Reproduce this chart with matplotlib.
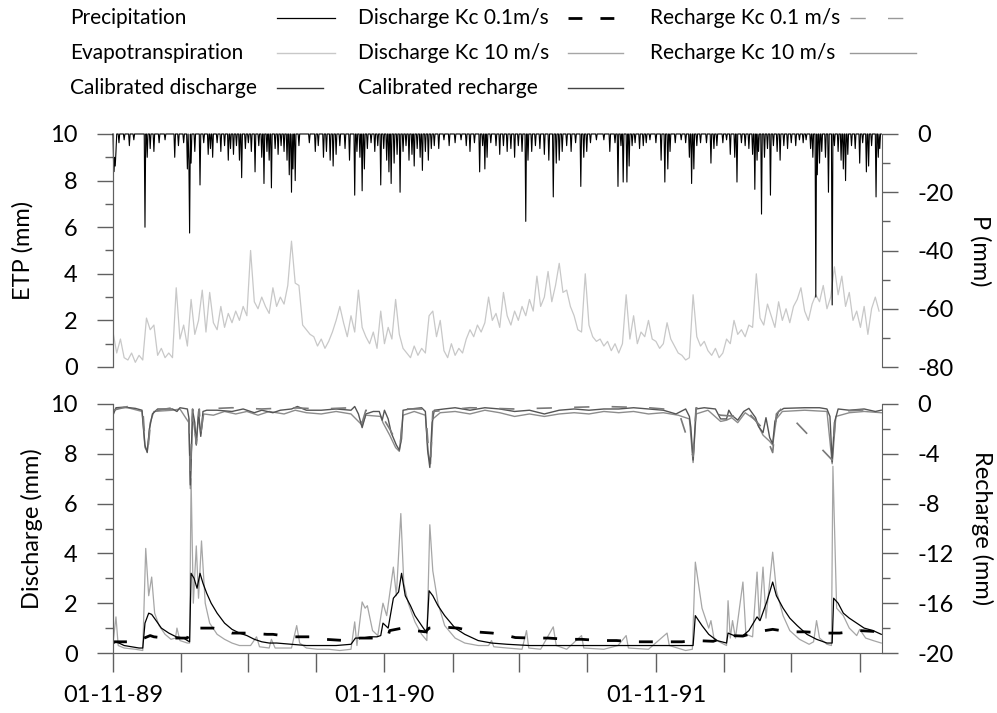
import numpy as np
import matplotlib
matplotlib.use('Agg')
import matplotlib.pyplot as plt
from matplotlib.lines import Line2D

plt.rcParams['font.family'] = ['Lato', 'DejaVu Sans']
plt.rcParams['axes.unicode_minus'] = False
plt.rcParams['lines.scale_dashes'] = False

start = np.datetime64('1989-11-01')
n_days = 1034

# ---- data (days counted from 01-11-89) ----
tick_dates = ['1989-11-01', '1990-02-01', '1990-05-01', '1990-08-01',
              '1990-11-01', '1991-02-01', '1991-05-01', '1991-08-01',
              '1991-11-01', '1992-02-01', '1992-05-01', '1992-08-01']
tick_labels = ['01-11-89', '', '', '', '01-11-90', '', '', '',
               '01-11-91', '', '', '']

# daily ETP read every 5 days (mm)
etp_step = 5
etp = [1.5, 0.6, 1.2, 0.4, 0.3, 0.6, 0.2, 0.5, 0.3, 2.1,
       1.6, 1.8, 0.5, 0.8, 0.4, 0.6, 0.4, 3.4, 1.2, 1.8,
       0.9, 2.9, 1.4, 2.0, 3.3, 1.5, 3.2, 1.9, 1.6, 2.6,
       1.7, 2.3, 1.9, 2.4, 2.0, 2.6, 2.2, 5.0, 2.8, 2.5,
       3.0, 2.6, 2.3, 3.4, 2.6, 3.0, 2.7, 3.5, 5.4, 3.6,
       3.5, 1.8, 1.6, 1.4, 1.3, 0.9, 1.2, 0.8, 1.1, 1.5,
       2.0, 2.6, 1.9, 1.3, 2.2, 1.5, 3.3, 1.7, 1.3, 1.0,
       1.5, 0.8, 2.4, 1.0, 1.7, 1.2, 2.9, 1.4, 0.8, 0.6,
       0.4, 0.9, 0.5, 0.8, 0.6, 2.2, 2.4, 1.3, 2.0, 0.7,
       0.4, 1.0, 0.5, 0.8, 0.6, 1.2, 1.6, 1.3, 1.8, 1.5,
       1.9, 3.0, 2.0, 2.3, 1.7, 3.2, 2.2, 1.8, 2.4, 2.0,
       2.6, 2.2, 2.9, 2.4, 3.9, 2.6, 3.0, 4.1, 2.8, 3.5,
       4.45, 3.2, 3.3, 2.6, 2.2, 1.6, 1.5, 4.0, 1.8, 1.3,
       1.1, 1.2, 0.9, 1.1, 0.7, 1.0, 0.6, 1.0, 3.1, 1.2,
       2.2, 1.0, 1.5, 1.3, 2.0, 1.2, 1.1, 0.8, 1.0, 1.9,
       1.2, 0.9, 0.6, 0.5, 0.3, 0.4, 3.1, 1.3, 0.9, 1.1,
       0.7, 0.5, 0.8, 0.4, 0.6, 1.2, 1.0, 2.0, 1.4, 1.6,
       1.3, 1.8, 1.7, 4.0, 2.1, 1.8, 2.7, 2.2, 1.7, 2.8,
       2.0, 2.5, 1.9, 2.6, 2.9, 3.4, 2.4, 2.0, 2.7, 3.1,
       2.8, 3.5, 2.5, 3.0, 4.3, 3.1, 3.9, 2.6, 3.2, 2.0,
       2.4, 1.7, 2.6, 1.4, 2.5, 3.0, 2.4]

# rain events (day, mm); all other days are dry
rain = [(1, 13), (2, 8), (3, 11), (4, 6), (8, 3), (15, 2), (22, 4), (28, 2),
        (43, 32), (46, 8), (50, 5), (55, 6), (62, 3), (70, 2), (83, 8), (88, 4),
        (95, 3), (100, 12), (102, 9), (103, 34), (105, 10), (110, 6), (117, 17.5),
        (122, 3), (128, 7), (131, 5), (134, 8), (140, 3), (145, 6), (150, 4),
        (155, 9), (158, 5), (162, 7), (166, 4), (170, 9), (173, 15), (178, 5),
        (182, 3), (186, 6), (191, 13), (196, 4), (200, 8), (203, 17), (207, 6),
        (210, 9), (213, 18.5), (218, 5), (222, 7), (226, 4), (230, 6), (234, 9),
        (237, 14), (240, 20), (242, 12), (245, 16), (250, 4), (264, 3), (272, 6),
        (276, 4), (283, 8), (287, 6), (292, 9), (296, 11), (300, 7), (305, 4),
        (312, 5), (318, 9), (325, 21), (328, 6), (332, 8), (335, 19.5), (338, 12),
        (342, 5), (347, 3), (352, 6), (356, 4), (360, 17.5), (364, 5), (368, 9),
        (371, 13), (374, 17), (378, 10), (382, 7), (386, 20), (390, 6), (394, 4),
        (398, 9), (402, 7), (405, 11), (409, 5), (413, 8), (416, 12.5), (420, 6),
        (424, 9), (428, 5), (432, 4), (438, 5), (445, 2), (452, 4), (460, 3),
        (468, 2), (475, 4), (480, 6), (486, 3), (493, 13), (497, 4), (500, 12),
        (503, 8), (508, 3), (515, 4), (520, 7), (525, 4), (530, 6), (535, 5),
        (540, 8), (545, 4), (550, 6), (555, 30), (558, 9), (563, 6), (568, 4),
        (574, 5), (580, 7), (586, 9), (592, 21.6), (596, 10), (600, 9), (604, 6),
        (610, 4), (616, 6), (622, 3), (629, 18), (633, 8), (637, 6), (642, 3),
        (650, 2), (660, 2), (668, 6), (675, 3), (679, 18), (683, 4), (686, 16.5),
        (691, 16.5), (694, 11), (698, 4), (702, 3), (708, 5), (713, 4), (717, 3),
        (722, 2), (730, 3), (737, 9), (742, 16.5), (746, 12), (749, 6), (756, 3),
        (764, 2), (770, 3), (775, 8), (778, 17), (781, 12), (785, 4), (790, 3),
        (798, 3), (804, 10), (808, 5), (812, 4), (820, 3), (825, 2), (830, 7),
        (836, 8), (839, 16.5), (845, 3), (850, 4), (855, 5), (860, 7), (863, 19),
        (866, 9), (868, 6), (872, 27.5), (876, 8), (880, 5), (884, 21), (888, 4),
        (893, 6), (897, 9), (902, 4), (907, 5), (912, 3), (918, 4), (923, 2),
        (928, 3), (932, 2), (938, 5), (941, 8), (945, 56), (947, 14), (950, 10),
        (953, 6), (958, 8), (962, 20), (967, 58.7), (970, 4), (975, 6), (979, 9),
        (982, 12), (985, 16), (988, 7), (993, 4), (998, 5), (1004, 10), (1008, 3),
        (1013, 13), (1016, 11), (1020, 4), (1026, 21.6), (1029, 8), (1031, 5)]

# discharge (mm), (day, value)
cal_q = [(0, 0.35), (3, 0.45), (8, 0.4), (15, 0.3), (25, 0.25), (35, 0.2), (40, 0.2),
         (43, 1.2), (48, 1.6), (52, 1.55), (58, 1.3), (65, 1.0), (75, 0.8), (85, 0.65),
         (95, 0.6), (100, 0.5), (103, 0.45), (105, 3.2), (109, 3.0), (113, 2.6),
         (117, 3.2), (121, 2.8), (126, 2.4), (132, 2.0), (140, 1.6), (150, 1.2),
         (160, 0.95), (170, 0.8), (180, 0.7), (190, 0.55), (200, 0.45), (210, 0.4),
         (220, 0.4), (240, 0.35), (260, 0.3), (280, 0.3), (300, 0.3), (320, 0.35),
         (326, 0.6), (335, 0.6), (345, 0.65), (355, 0.65), (360, 0.7), (363, 1.2),
         (370, 1.0), (377, 2.2), (384, 2.45), (388, 3.2), (393, 2.3), (400, 1.9),
         (406, 1.5), (415, 1.1), (422, 0.8), (425, 2.5), (430, 2.3), (437, 1.9),
         (446, 1.5), (460, 1.0), (473, 0.75), (491, 0.5), (509, 0.4), (530, 0.35),
         (560, 0.3), (590, 0.3), (620, 0.3), (650, 0.3), (680, 0.3), (700, 0.3),
         (730, 0.3), (760, 0.3), (780, 0.3), (783, 1.5), (792, 1.1), (801, 0.75),
         (812, 0.5), (825, 0.4), (827, 0.8), (835, 0.7), (847, 0.7), (855, 0.9),
         (866, 1.45), (870, 1.3), (879, 2.05), (887, 2.85), (892, 2.3), (901, 1.8),
         (910, 1.4), (920, 1.1), (933, 0.75), (946, 0.55), (960, 0.4), (967, 0.4),
         (969, 2.2), (975, 2.0), (982, 1.6), (990, 1.4), (1000, 1.2), (1010, 1.0),
         (1022, 0.9), (1033, 0.75)]

kc10_q = [(0, 0.4), (4, 1.45), (7, 0.3), (15, 0.2), (30, 0.15), (40, 0.1), (44, 4.2),
          (48, 2.3), (52, 3.05), (56, 1.6), (62, 1.1), (70, 0.75), (78, 0.55), (84, 0.6),
          (86, 1.0), (90, 0.5), (100, 0.4), (103, 0.4), (105, 7.0), (108, 2.0),
          (112, 4.3), (115, 2.2), (119, 4.5), (124, 2.0), (130, 1.2), (140, 0.75),
          (150, 0.55), (160, 0.4), (170, 0.3), (185, 0.3), (193, 0.65), (197, 0.25),
          (210, 0.2), (213, 0.55), (218, 0.2), (240, 0.2), (247, 1.1), (251, 0.4),
          (260, 0.2), (275, 0.15), (290, 0.15), (305, 0.1), (320, 0.15), (325, 1.25),
          (328, 0.3), (335, 2.05), (339, 1.8), (342, 1.9), (349, 0.9), (356, 0.7),
          (363, 2.0), (368, 1.5), (377, 3.45), (381, 2.3), (387, 5.6), (391, 2.8),
          (397, 2.0), (406, 1.25), (415, 0.75), (422, 0.5), (426, 5.15), (430, 3.3),
          (437, 2.0), (446, 1.1), (460, 0.6), (473, 0.4), (491, 0.3), (505, 0.3),
          (509, 0.5), (512, 0.25), (530, 0.2), (550, 0.15), (556, 0.9), (559, 0.2),
          (575, 0.15), (592, 1.05), (596, 0.3), (610, 0.15), (630, 0.7), (633, 0.2),
          (660, 0.15), (679, 0.3), (690, 0.7), (693, 0.2), (720, 0.15), (745, 0.8),
          (748, 0.3), (770, 0.1), (779, 0.15), (783, 3.65), (792, 1.8), (801, 1.0),
          (804, 1.3), (808, 0.6), (815, 0.45), (825, 0.3), (827, 2.1), (830, 0.6),
          (833, 1.3), (837, 0.6), (847, 2.85), (851, 0.75), (860, 0.65), (866, 3.25),
          (869, 1.3), (874, 3.45), (878, 1.4), (887, 4.05), (892, 2.5), (901, 1.5),
          (910, 0.9), (923, 0.55), (936, 0.35), (942, 0.45), (946, 1.3), (950, 0.6),
          (960, 0.35), (966, 0.3), (968, 7.5), (973, 1.8), (982, 1.5), (990, 1.0),
          (1000, 0.7), (1004, 0.95), (1012, 0.6), (1022, 0.5), (1033, 0.4)]

kc01_q = [(0, 0.45), (13, 0.45), (30, 0.45), (42, 0.6), (50, 0.7), (55, 0.65),
          (70, 0.6), (100, 0.6), (105, 1.0), (135, 1.0), (150, 0.9), (160, 0.8),
          (183, 0.8), (207, 0.75), (215, 0.75), (240, 0.65), (265, 0.65), (285, 0.55),
          (312, 0.5), (325, 0.55), (332, 0.6), (359, 0.6), (370, 0.7), (372, 0.9),
          (389, 1.0), (406, 0.9), (420, 0.85), (425, 1.0), (440, 1.05), (464, 1.0),
          (487, 0.85), (510, 0.8), (527, 0.72), (541, 0.62), (563, 0.6), (585, 0.6),
          (610, 0.55), (630, 0.55), (655, 0.5), (677, 0.5), (700, 0.45), (722, 0.45),
          (765, 0.45), (783, 0.5), (807, 0.47), (830, 0.7), (847, 0.68), (866, 0.85),
          (887, 0.95), (910, 0.85), (930, 0.85), (960, 0.8), (977, 0.8), (1004, 0.9),
          (1033, 0.85)]

# recharge (mm, negative), (day, value)
cal_r = [(0, -0.9), (4, -0.3), (15, -0.25), (30, -0.35), (39, -0.5), (43, -3.3),
         (46, -3.9), (49, -2.0), (53, -0.8), (60, -0.4), (80, -0.4), (86, -0.6),
         (90, -0.3), (100, -0.4), (102, -1.1), (104, -6.5), (107, -0.5), (110, -1.5),
         (112, -3.3), (115, -0.6), (118, -2.6), (121, -0.6), (126, -0.5), (140, -0.5),
         (160, -0.6), (175, -0.4), (190, -0.7), (200, -0.5), (215, -0.7), (225, -0.5),
         (240, -0.4), (248, -0.2), (260, -0.5), (280, -0.5), (300, -0.4), (320, -0.5),
         (325, -0.2), (330, -0.8), (335, -1.9), (340, -0.8), (350, -0.6), (358, -0.6),
         (362, -1.3), (365, -0.5), (370, -1.2), (374, -2.3), (381, -3.3), (385, -3.7),
         (388, -2.8), (390, -0.5), (400, -0.4), (415, -0.3), (420, -0.6), (423, -3.7),
         (426, -5.1), (429, -1.5), (432, -0.5), (445, -0.4), (460, -0.3), (480, -0.5),
         (500, -0.3), (520, -0.4), (540, -0.6), (560, -0.5), (580, -0.8), (600, -0.5),
         (620, -0.4), (640, -0.5), (660, -0.4), (680, -0.4), (700, -0.3), (720, -0.4),
         (740, -0.5), (757, -0.8), (770, -0.4), (775, -1.0), (777, -1.9), (780, -4.5),
         (784, -0.4), (795, -0.3), (810, -0.4), (817, -1.2), (825, -1.2), (828, -0.5),
         (832, -0.9), (840, -1.3), (848, -0.6), (855, -0.35), (864, -1.1), (868, -1.8),
         (874, -2.3), (878, -1.1), (883, -2.7), (887, -3.2), (890, -1.4), (895, -0.6),
         (902, -0.35), (930, -0.3), (950, -0.3), (960, -0.4), (964, -1.0), (967, -4.65),
         (970, -1.5), (975, -0.4), (990, -0.5), (1010, -0.4), (1025, -0.6), (1033, -0.5)]

kc10_r = [(0, -0.7), (5, -0.3), (20, -0.3), (39, -0.6), (43, -3.5), (46, -3.8),
          (50, -1.5), (55, -0.6), (80, -0.5), (90, -0.4), (102, -1.5), (104, -6.8),
          (107, -1.0), (112, -3.0), (115, -1.0), (118, -2.4), (122, -0.8), (135, -0.9),
          (150, -0.6), (165, -0.8), (180, -0.6), (195, -0.9), (210, -0.6), (230, -0.8),
          (245, -0.5), (260, -0.7), (280, -0.8), (300, -0.6), (320, -0.8), (335, -1.7),
          (340, -0.9), (360, -1.0), (363, -1.5), (372, -2.5), (380, -3.5), (385, -3.8),
          (390, -0.9), (405, -0.6), (420, -0.9), (424, -4.0), (427, -4.8), (430, -1.2),
          (440, -0.7), (460, -0.6), (480, -0.8), (500, -0.5), (520, -0.7), (540, -1.0),
          (560, -0.8), (580, -1.0), (600, -0.8), (620, -0.7), (640, -0.8), (660, -0.6),
          (680, -0.7), (700, -0.6), (720, -0.8), (740, -0.7), (760, -0.9), (775, -1.2),
          (780, -4.7), (784, -0.8), (800, -0.5), (817, -1.4), (825, -1.3), (832, -1.1),
          (840, -1.5), (850, -0.7), (864, -1.3), (874, -2.5), (883, -3.0), (887, -3.3),
          (892, -1.2), (900, -0.6), (930, -0.5), (960, -0.6), (967, -4.8), (972, -1.0),
          (990, -0.7), (1010, -0.6), (1033, -0.7)]

kc01_r = [(0, -0.5), (20, -0.2), (40, -0.4), (43, -3.0), (47, -3.6), (52, -0.6),
          (80, -0.3), (102, -1.0), (104, -5.8), (107, -0.4), (112, -3.2), (116, -0.4),
          (118, -2.5), (122, -0.4), (160, -0.3), (200, -0.4), (240, -0.3), (280, -0.4),
          (320, -0.3), (335, -1.5), (340, -0.5), (362, -1.0), (372, -2.0), (381, -3.0),
          (386, -3.6), (390, -0.4), (420, -0.4), (424, -3.5), (427, -4.6), (430, -0.6),
          (480, -0.3), (540, -0.4), (600, -0.3), (660, -0.2), (720, -0.3), (760, -0.5),
          (780, -4.2), (784, -0.3), (817, -0.9), (840, -1.0), (850, -0.4), (874, -2.0),
          (887, -3.9), (892, -0.8), (900, -0.3), (967, -4.5), (972, -0.6), (1033, -0.4)]


def to_dates(days):
    return start + np.asarray(days).astype('timedelta64[D]')


def split(pairs):
    d, v = zip(*pairs)
    return to_dates(np.array(d, dtype=int)), np.array(v)


etp_dates = to_dates(np.arange(len(etp)) * etp_step)
precip = np.zeros(n_days)
for d, mm in rain:
    precip[d] = mm
p_dates = to_dates(np.arange(n_days))

# styles
c_axis = '#606060'
c_p = 'black'
c_etp = '#c8c8c8'
c_calq = 'black'
c_kc01q = 'black'
c_kc10q = '#a6a6a6'
c_calr = '#555555'
c_kc01r = '#7a7a7a'
c_kc10r = '#8c8c8c'
dash_q = (0, (10, 13))
dash_r = (0, (11, 16))
fs_tick = 17
fs_label = 17
fs_legend = 15

W, H = 997, 713
fig = plt.figure(figsize=(W / 100, H / 100), dpi=100)


def rect(x0, y0, x1, y1):
    return [x0 / W, 1 - y1 / H, (x1 - x0) / W, (y1 - y0) / H]


ax_etp = fig.add_axes(rect(113, 134, 882, 367))
ax_p = ax_etp.twinx()
ax_q = fig.add_axes(rect(113, 404, 882, 653))
ax_r = ax_q.twinx()

ax_etp.plot(etp_dates, etp, color=c_etp, lw=0.9)
ax_p.plot(p_dates, -precip, color=c_p, lw=0.8, clip_on=False)

ax_q.plot(*split(kc10_q), color=c_kc10q, lw=0.9)
ax_q.plot(*split(cal_q), color=c_calq, lw=0.9)
ax_q.plot(*split(kc01_q), color=c_kc01q, lw=2.0, linestyle=dash_q)
ax_r.plot(*split(kc10_r), color=c_kc10r, lw=1.0)
ax_r.plot(*split(cal_r), color=c_calr, lw=1.0)
ax_r.plot(*split(kc01_r), color=c_kc01r, lw=1.2, linestyle=dash_r)

xmin, xmax = start, to_dates(n_days)
for a in (ax_etp, ax_p, ax_q, ax_r):
    a.set_xlim(xmin, xmax)
    for s in a.spines.values():
        s.set_color(c_axis)
    a.spines['top'].set_visible(False)
    a.tick_params(axis='y', which='major', direction='out', length=11.5,
                  width=1, color=c_axis, pad=14, labelsize=fs_tick)
    a.tick_params(axis='y', which='minor', direction='out', length=5.5,
                  width=1, color=c_axis)

ax_etp.set_ylim(0, 10)
ax_etp.set_yticks(np.arange(0, 11, 2))
ax_etp.set_yticks(np.arange(1, 10, 2), minor=True)
ax_p.set_ylim(-80, 0)
ax_p.set_yticks(np.arange(-80, 1, 20))
ax_p.set_yticks(np.arange(-70, 0, 20), minor=True)
ax_q.set_ylim(0, 10)
ax_q.set_yticks(np.arange(0, 11, 2))
ax_q.set_yticks(np.arange(1, 10, 2), minor=True)
ax_r.set_ylim(-20, 0)
ax_r.set_yticks(np.arange(-20, 1, 4))
ax_r.set_yticks(np.arange(-18, 0, 4), minor=True)

for a in (ax_etp, ax_p):
    a.spines['bottom'].set_visible(False)
ax_etp.spines['right'].set_visible(False)
ax_q.spines['right'].set_visible(False)
ax_etp.tick_params(axis='x', bottom=False, labelbottom=False)

ax_q.set_xticks(np.array(tick_dates, dtype='datetime64[D]'))
ax_q.set_xticklabels(tick_labels)
ax_q.tick_params(axis='x', direction='out', length=14, width=1, color=c_axis,
                 pad=9, labelsize=fs_tick)

ax_etp.set_ylabel('ETP (mm)', fontsize=fs_label, va='center')
ax_etp.yaxis.set_label_coords((23 - 113) / 769, 0.5)
ax_p.set_ylabel('P (mm)', fontsize=fs_label, rotation=270, va='center')
ax_p.yaxis.set_label_coords((980 - 113) / 769, 0.5)
ax_q.set_ylabel('Discharge (mm)', fontsize=fs_label, va='center')
ax_q.yaxis.set_label_coords((32 - 113) / 769, 0.5)
ax_r.set_ylabel('Recharge (mm)', fontsize=fs_label, rotation=270, va='center')
ax_r.yaxis.set_label_coords((982 - 113) / 769, 0.5)

# legend drawn by hand: label on the left, line sample on the right
legend = [('Precipitation', 70, 18, 277, 335, c_p, 0.9, '-'),
          ('Evapotranspiration', 70, 53, 277, 335, c_etp, 1.0, '-'),
          ('Calibrated discharge', 70, 88, 277, 323, '#333333', 1.0, '-'),
          ('Discharge Kc 0.1m/s', 358, 18, 568, 621, c_kc01q, 2.0, dash_q),
          ('Discharge Kc 10 m/s', 358, 53, 568, 623, c_kc10q, 1.0, '-'),
          ('Calibrated recharge', 358, 88, 568, 623, '#444444', 1.0, '-'),
          ('Recharge Kc 0.1 m/s', 650, 18, 850, 916, '#999999', 1.0, dash_r),
          ('Recharge Kc 10 m/s', 650, 53, 850, 916, '#999999', 1.0, '-')]
for label, tx, ty, lx0, lx1, col, lw, ls in legend:
    fig.text(tx / W, 1 - ty / H, label, fontsize=fs_legend, ha='left', va='center')
    fig.add_artist(Line2D([lx0 / W, lx1 / W], [1 - ty / H] * 2, color=col,
                          lw=lw, linestyle=ls, transform=fig.transFigure))

fig.savefig('out.png', dpi=100)
